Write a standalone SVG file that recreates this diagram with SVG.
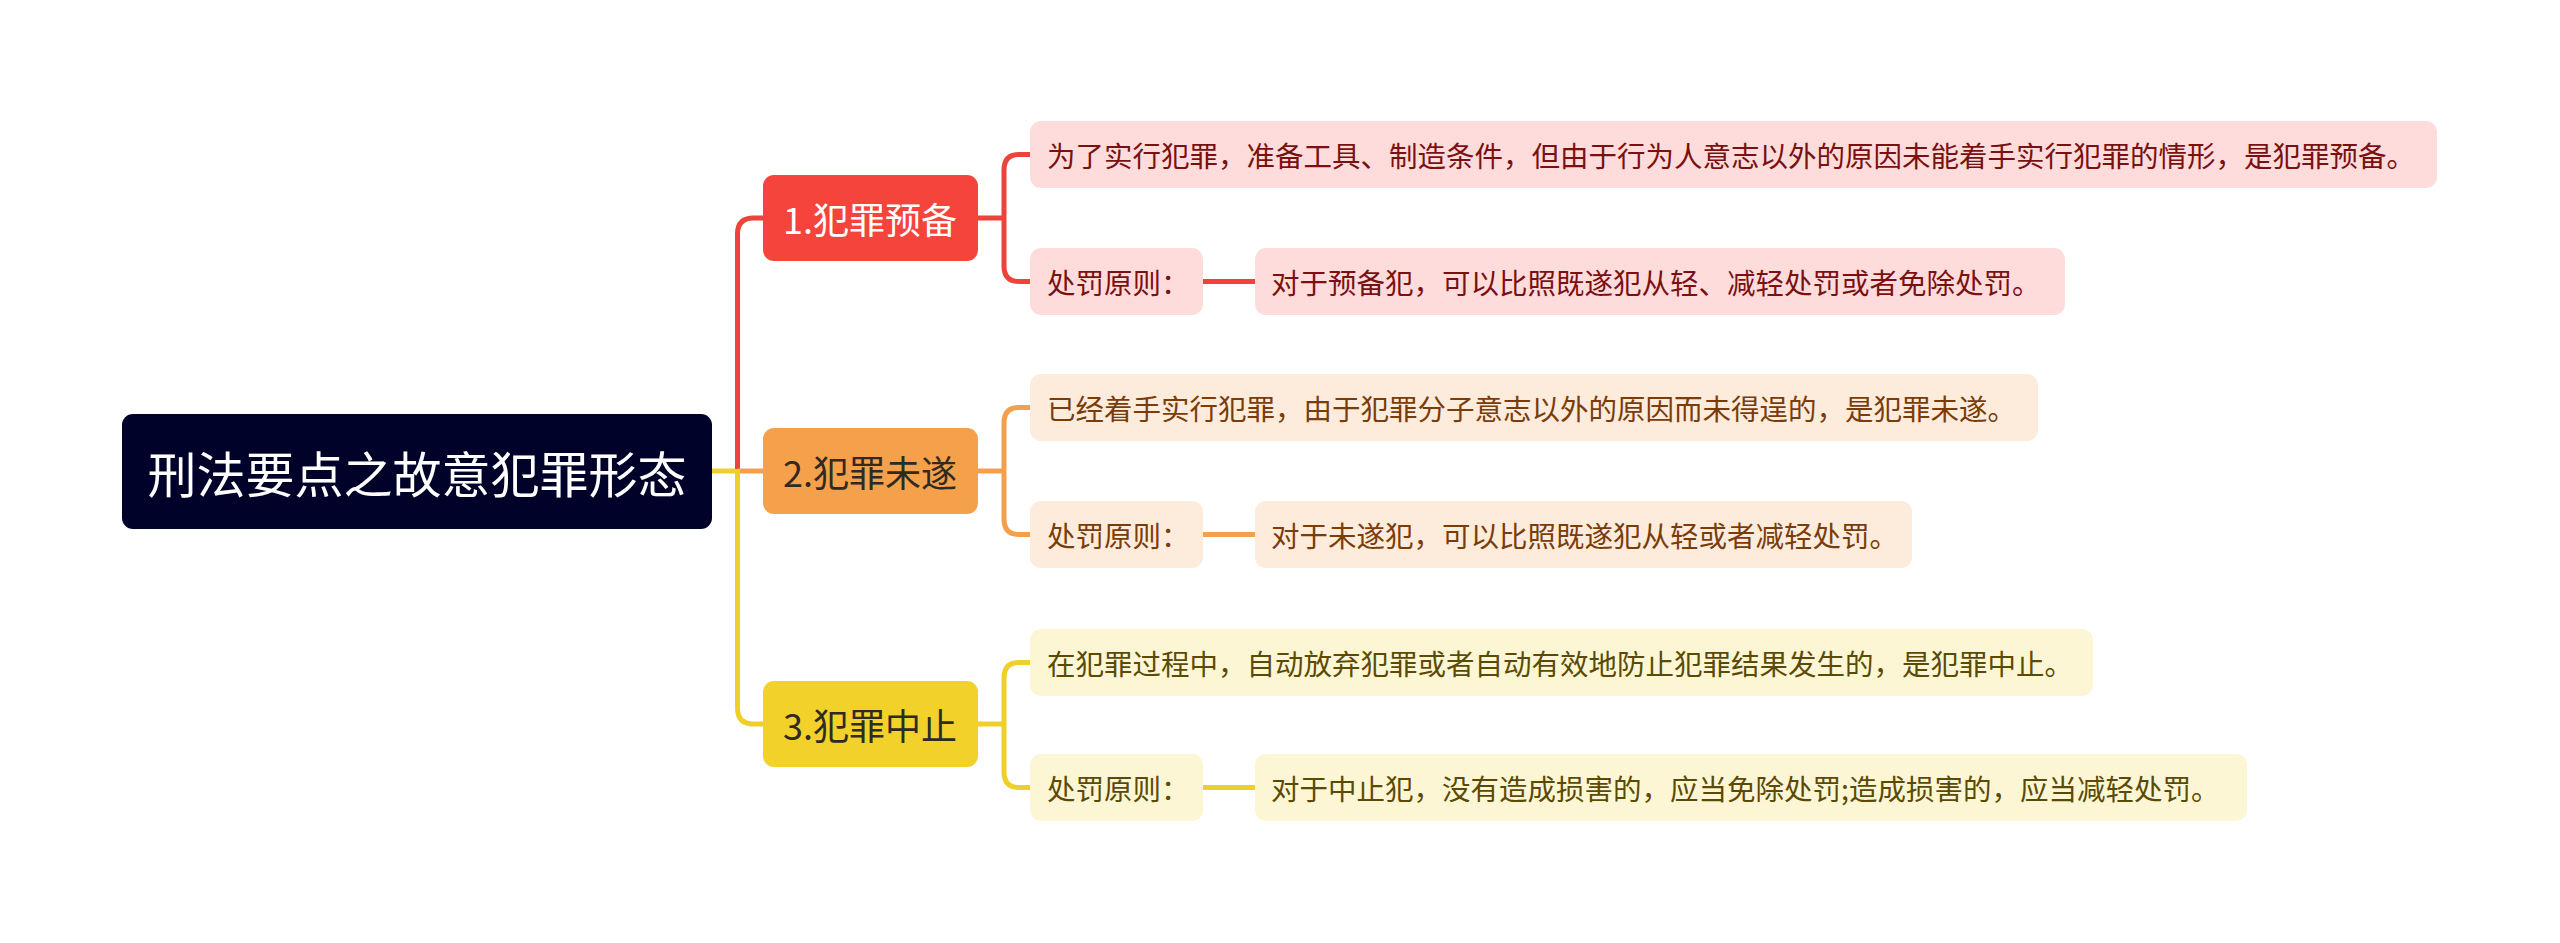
<svg xmlns="http://www.w3.org/2000/svg" width="2560" height="943" viewBox="0 0 2560 943">
<style>
text{font-family:"Noto Sans CJK SC","Noto Sans",sans-serif;dominant-baseline:central}
.root{fill:#000229}
.rt{fill:#ffffff;font-size:49px;text-anchor:middle}
.bt{font-size:36px;text-anchor:middle}
.lt{font-size:28.5px}
.c{fill:none;stroke-width:5;stroke-linecap:butt}
.red{stroke:#EC433B}.org{stroke:#F2A04E}.yel{stroke:#EFCF2A}
.f1{fill:#FEDCDC}.f2{fill:#FDEBDC}.f3{fill:#FDF6D5}
.t1{fill:#7A1010}.t2{fill:#7A3C08}.t3{fill:#5B4A04}
</style>
<rect width="2560" height="943" fill="#ffffff"/>
<g id="connectors">
<path class="c yel" d="M712,471 H740"/>
<path class="c red" d="M737.5,473 V234 Q737.5,218 753.5,218 H763"/>
<path class="c org" d="M737.5,471 H763"/>
<path class="c yel" d="M737.5,469 V708 Q737.5,724 753.5,724 H763"/>
<path class="c red" d="M978,218 H1004 M1004,170 Q1004,154.5 1019,154.5 H1030 M1004,170 V266 Q1004,281.5 1019,281.5 H1030"/>
<path class="c red" d="M1203,281.5 H1255"/>
<path class="c org" d="M978,471 H1004 M1004,423 Q1004,407.5 1019,407.5 H1030 M1004,423 V519 Q1004,534.5 1019,534.5 H1030"/>
<path class="c org" d="M1203,534.5 H1255"/>
<path class="c yel" d="M978,724 H1004 M1004,678 Q1004,662.5 1019,662.5 H1030 M1004,678 V772 Q1004,787.5 1019,787.5 H1030"/>
<path class="c yel" d="M1203,787.5 H1255"/>
</g>
<g id="root">
<rect class="root" x="122" y="414" width="590" height="115" rx="11"/>
<text class="rt" x="417" y="471">刑法要点之故意犯罪形态</text>
</g>
<g id="b1">
<rect x="763" y="175" width="215" height="86" rx="11" fill="#F5443B"/>
<text class="bt" x="870" y="218" fill="#ffffff">1.犯罪预备</text>
</g>
<g id="b2">
<rect x="763" y="428" width="215" height="86" rx="11" fill="#F5A04B"/>
<text class="bt" x="870" y="471" fill="#2F2A22">2.犯罪未遂</text>
</g>
<g id="b3">
<rect x="763" y="681" width="215" height="86" rx="11" fill="#F2D22A"/>
<text class="bt" x="870" y="724" fill="#2F2A22">3.犯罪中止</text>
</g>
<g id="l1a">
<rect class="f1" x="1030" y="121" width="1407" height="67" rx="11"/>
<text class="lt t1" x="1047" y="154.5">为了实行犯罪，准备工具、制造条件，但由于行为人意志以外的原因未能着手实行犯罪的情形，是犯罪预备。</text>
</g>
<g id="l1b">
<rect class="f1" x="1030" y="248" width="173" height="67" rx="11"/>
<text class="lt t1" x="1047" y="281.5">处罚原则：</text>
</g>
<g id="l1c">
<rect class="f1" x="1255" y="248" width="810" height="67" rx="11"/>
<text class="lt t1" x="1271" y="281.5">对于预备犯，可以比照既遂犯从轻、减轻处罚或者免除处罚。</text>
</g>
<g id="l2a">
<rect class="f2" x="1030" y="374" width="1008" height="67" rx="11"/>
<text class="lt t2" x="1047" y="407.5">已经着手实行犯罪，由于犯罪分子意志以外的原因而未得逞的，是犯罪未遂。</text>
</g>
<g id="l2b">
<rect class="f2" x="1030" y="501" width="173" height="67" rx="11"/>
<text class="lt t2" x="1047" y="534.5">处罚原则：</text>
</g>
<g id="l2c">
<rect class="f2" x="1255" y="501" width="657" height="67" rx="11"/>
<text class="lt t2" x="1271" y="534.5">对于未遂犯，可以比照既遂犯从轻或者减轻处罚。</text>
</g>
<g id="l3a">
<rect class="f3" x="1030" y="629" width="1063" height="67" rx="11"/>
<text class="lt t3" x="1047" y="662.5">在犯罪过程中，自动放弃犯罪或者自动有效地防止犯罪结果发生的，是犯罪中止。</text>
</g>
<g id="l3b">
<rect class="f3" x="1030" y="754" width="173" height="67" rx="11"/>
<text class="lt t3" x="1047" y="787.5">处罚原则：</text>
</g>
<g id="l3c">
<rect class="f3" x="1255" y="754" width="992" height="67" rx="11"/>
<text class="lt t3" x="1271" y="787.5">对于中止犯，没有造成损害的，应当免除处罚;造成损害的，应当减轻处罚。</text>
</g>
</svg>
